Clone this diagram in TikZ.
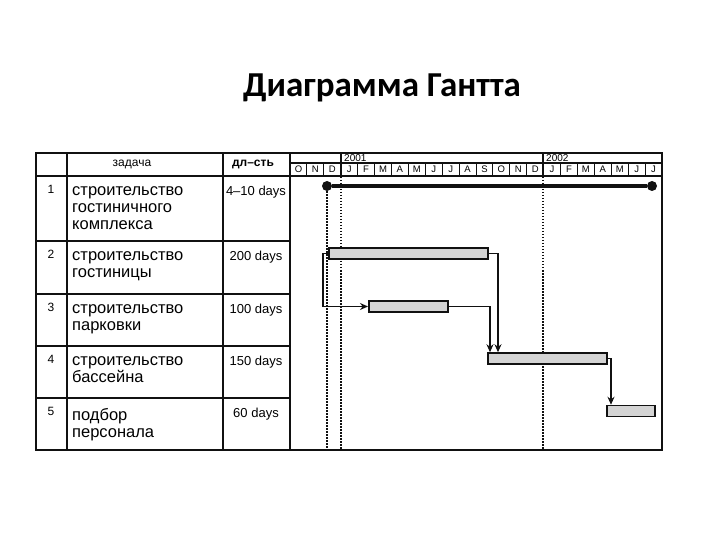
\documentclass[tikz,border=0pt]{standalone}
\usepackage{fontspec}
\setmainfont{Liberation Sans}
\newfontfamily\titlefont{Carlito}
\usetikzlibrary{arrows.meta, calc, positioning}
\definecolor{gtline}{HTML}{111111}
\definecolor{gtbar}{HTML}{D4D4D4}
\tikzset{
  every picture/.style={line join=miter},
  frame/.style={draw=gtline, line width=2bp},
  grid/.style={draw=gtline, line width=1.4bp},
  thingrid/.style={draw=gtline, line width=0.9bp},
  titletxt/.style={font=\titlefont\bfseries\fontsize{35bp}{42bp}\selectfont, anchor=base},
  headtxt/.style={font=\fontsize{12bp}{14bp}\selectfont, inner sep=0pt},
  numtxt/.style={font=\fontsize{12bp}{14bp}\selectfont, anchor=north, inner sep=0pt},
  tasktxt/.style={font=\fontsize{16.5bp}{17bp}\selectfont, align=left, anchor=north west, inner sep=0pt},
  durtxt/.style={font=\fontsize{13bp}{15bp}\selectfont, anchor=north, inner sep=0pt},
  monthtxt/.style={font=\fontsize{9.5bp}{11bp}\selectfont, inner sep=0pt},
  yeartxt/.style={font=\fontsize{10bp}{12bp}\selectfont, anchor=west, inner sep=0pt},
  gbar/.style={rectangle, draw=gtline, fill=gtbar, line width=1.5bp, inner sep=0pt,
    minimum height=11bp},
  msdot/.style={circle, fill=gtline, inner sep=0pt, minimum size=10bp},
  msline/.style={draw=gtline, line width=4bp},
  today/.style={draw=gtline, line width=1.5bp, dash pattern=on 1.5bp off 1.5bp},
  link/.style={-{Stealth[length=8bp, width=7bp]}, draw=gtline, line width=1.8bp},
}

\begin{document}
\begin{tikzpicture}[x=1bp, y=-1bp]
\useasboundingbox (0,0) rectangle (720,540);

% ---- title
\node[titletxt] (title) at (382,97) {Диаграмма Гантта};

% ---- table frame
\coordinate (tl) at (36,153);
\coordinate (br) at (662,450);
\coordinate (bot) at (0,450);
\foreach \x in {67, 223, 290} {
  \draw[grid] (\x,153) -- (\x,450);
}
\foreach \y in {176, 241, 294, 346, 398} {
  \draw[grid] (36,\y) -- (290,\y);
}
\draw[grid] (290,163) -- (662,163);
\draw[grid] (290,176) -- (662,176);
\draw[grid] (341,153) -- (341,176);
\draw[grid] (543,153) -- (543,176);
\draw[frame] (tl) rectangle (br);

% ---- time scale
\node[yeartxt] (y2001) at (344,158.5) {2001};
\node[yeartxt] (y2002) at (546,158.5) {2002};
\foreach \m [count=\i from 0] in {O,N,D,J,F,M,A,M,J,J,A,S,O,N,D,J,F,M,A,M,J,J} {
  \pgfmathsetmacro\xm{290+16.909*\i}
  \ifnum\i>0 \draw[thingrid] (\xm,163) -- (\xm,176); \fi
  \node[monthtxt] (m\i) at (\xm+8.45,169.5) {\m};
}

% ---- header and rows
\node[headtxt] (hdtask) at (132,164) {задача};
\node[headtxt, font=\bfseries\fontsize{12bp}{14bp}\selectfont] (hddur) at (253,164) {дл–сть};
\foreach \i/\top/\task/\dur in {
  1/176/{строительство\\гостиничного\\комплекса}/{4–10 days},
  2/241/{строительство\\гостиницы}/{200 days},
  3/294/{строительство\\парковки}/{100 days},
  4/346/{строительство\\бассейна}/{150 days},
  5/398/{подбор\\персонала}/{60 days}} {
  \node[numtxt] (num\i) at (51,\top+9) {\i};
  \node[tasktxt] (task\i) at (72,\top+10) {\task};
  \node[durtxt] (dur\i) at (256,\top+10) {\dur};
}

% ---- milestone and date lines
\node[msdot] (ms1) at (327,186) {};
\node[msdot] (ms2) at (652,186) {};
\draw[msline] (ms1) -- (ms2);
\draw[today] (ms1.south) -- (ms1 |- bot);
\draw[today] (341,177) -- (341,450);
\draw[today] (543,177) -- (543,450);

% ---- bars
\foreach \name/\xa/\w/\yc in {bar2/328/159/253.5, bar3/368/79/306.5,
    bar4/487/119/358.5, bar5/606/48/411} {
  \node[gbar, minimum width=\w bp, anchor=west] (\name) at (\xa,\yc) {};
}

% ---- dependencies
\draw[link] (bar2.west) -- ++(-5,0) |- (bar3.west);
\draw[link] (bar2.east) -| ($(bar4.north west)+(11,0)$);
\draw[link] (bar3.east) -| ($(bar4.north west)+(3,0)$);
\draw[link] (bar4.east) -| ($(bar5.north west)+(5,0)$);

\end{tikzpicture}
\end{document}
